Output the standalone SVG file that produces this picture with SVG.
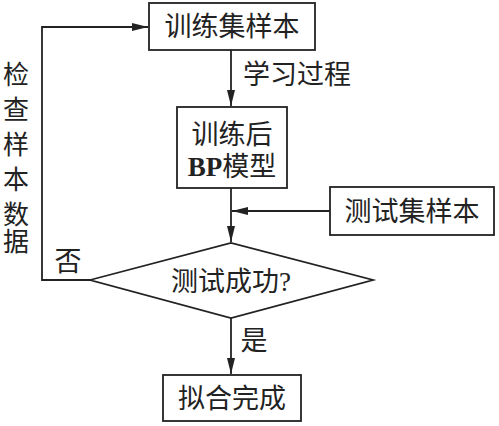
<svg xmlns="http://www.w3.org/2000/svg" width="499" height="426" viewBox="0 0 499 426">
<style>
.box{fill:#fff;stroke:#222;stroke-width:1.8}
.ln{fill:none;stroke:#222;stroke-width:1.8}
text{font-family:"Liberation Serif","Noto Sans CJK SC",serif;font-size:27px;fill:#222;text-anchor:middle}
</style>
<defs>
<marker id="ah" viewBox="0 0 16 8" refX="16" refY="4" markerWidth="16" markerHeight="8" markerUnits="userSpaceOnUse" orient="auto">
<path d="M0,0 L16,4 L0,8 Z" fill="#222"/>
</marker>
</defs>
<g id="connectors">
<path class="ln" d="M231,50 V106" marker-end="url(#ah)"/>
<path class="ln" d="M231,188 V242" marker-end="url(#ah)"/>
<path class="ln" d="M330,211 H232" marker-end="url(#ah)"/>
<path class="ln" d="M231,318 V374" marker-end="url(#ah)"/>
<path class="ln" d="M90,280 H42 V27 H148" marker-end="url(#ah)"/>
<text x="297" y="84">学习过程</text>
<text x="254" y="350">是</text>
<text x="68" y="271">否</text>
<text font-size="26" style="font-size:26px"><tspan x="16" y="84">检</tspan><tspan x="16" y="119">查</tspan><tspan x="16" y="154">样</tspan><tspan x="16" y="189">本</tspan><tspan x="16" y="224">数</tspan><tspan x="16" y="251">据</tspan></text>
</g>
<g id="train">
<rect class="box" x="149" y="3" width="166" height="47"/>
<text x="232" y="36">训练集样本</text>
</g>
<g id="model">
<rect class="box" x="177" y="107" width="110" height="81"/>
<text x="232" y="144">训练后</text>
<text x="232" y="176"><tspan font-weight="bold">BP</tspan>模型</text>
</g>
<g id="test">
<rect class="box" x="330" y="187" width="164" height="48"/>
<text x="412" y="221">测试集样本</text>
</g>
<g id="decision">
<path class="box" d="M90,280 L231,243 L373,280 L231,318 Z"/>
<text x="231" y="291">测试成功?</text>
</g>
<g id="done">
<rect class="box" x="163" y="375" width="138" height="46"/>
<text x="232" y="408">拟合完成</text>
</g>
</svg>
